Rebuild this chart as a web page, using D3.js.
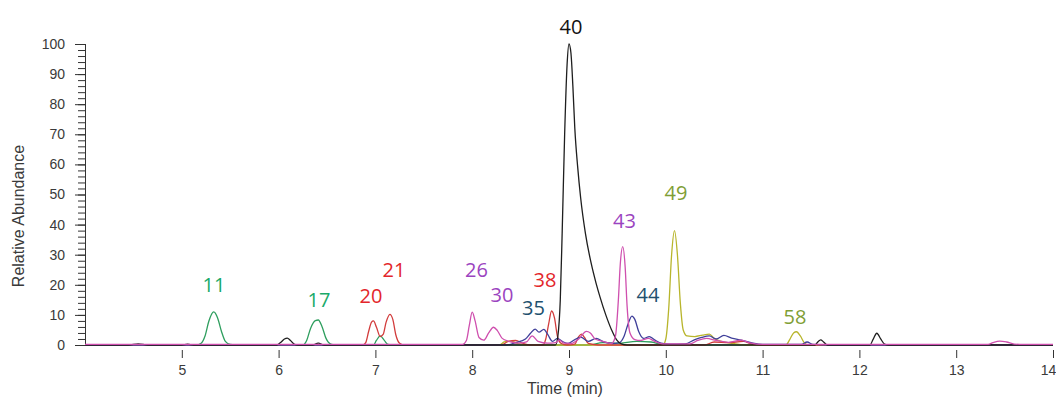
<!DOCTYPE html>
<html>
<head>
<meta charset="utf-8">
<script src="https://cdn.jsdelivr.net/npm/d3@7"></script>
<style>
  html, body { margin: 0; padding: 0; background: #fff; }
  svg { display: block; }
</style>
</head>
<body>
<svg id="chart" width="1056" height="398"></svg>
<script>
// ---------------- data (time in min, relative abundance %) ----------------
const xTicks = [5, 6, 7, 8, 9, 10, 11, 12, 13, 14];
const yTicks = [0, 10, 20, 30, 40, 50, 60, 70, 80, 90, 100];

const greenTrace = [
  [4.0,0],[5.15,0],[5.2,0.6],[5.24,3],[5.28,8],[5.33,11],[5.37,9],[5.41,4.5],[5.45,1.2],[5.5,0.2],[5.6,0],
  [6.25,0],[6.29,1.5],[6.33,5.5],[6.38,8.1],[6.41,8.3],[6.45,6],[6.49,2.2],[6.54,0.3],[6.6,0],
  [6.98,0],[7.01,1.5],[7.05,3],[7.09,1.6],[7.13,0.2],[7.2,0],
  [9.2,0],[9.35,0.8],[9.5,0.6],[9.7,1.2],[9.85,1],[9.95,0.2],[10.1,0],[14.0,0]
];
const yellowTrace = [
  [4.0,0],[8.28,0],[8.33,1],[8.4,1.3],[8.48,0.4],[8.55,0],
  [9.97,0],[10.0,2],[10.03,12],[10.06,30],[10.09,38],[10.12,30],[10.15,14],[10.18,5],[10.22,3],
  [10.3,2.8],[10.38,3.3],[10.45,3.6],[10.5,2.2],[10.6,1],[10.72,0.4],[10.85,0],
  [11.24,0],[11.28,1.8],[11.32,4],[11.35,4.4],[11.39,3],[11.43,0.8],[11.48,0],[14.0,0]
];
const redTrace = [
  [4.0,0],[6.87,0],[6.9,0.8],[6.93,4.5],[6.96,7.6],[6.98,8],[7.01,6],[7.05,2.8],[7.08,3.5],
  [7.11,7.5],[7.15,10.2],[7.18,8.5],[7.21,3.5],[7.25,0.6],[7.3,0],
  [8.3,0],[8.36,1],[8.45,1.5],[8.52,0.6],[8.6,0],
  [8.73,0],[8.76,2],[8.79,7],[8.82,11.3],[8.85,9],[8.88,3],[8.92,0.5],[8.98,0],
  [9.06,0.3],[9.1,2.8],[9.13,3.6],[9.16,2.5],[9.2,0.5],[9.3,0],
  [10.4,0],[10.5,1],[10.65,0.8],[10.8,1.2],[10.9,0.2],[11.0,0],[14.0,0]
];
const navyTrace = [
  [4.0,0],[8.35,0],[8.45,0.8],[8.55,2],[8.6,3.8],[8.65,5.3],[8.69,4.3],[8.74,5.2],[8.78,3.5],
  [8.83,1.2],[8.88,2.2],[8.93,1.2],[8.99,0.5],[9.06,1.8],[9.12,2.6],[9.2,1.2],[9.28,2.2],
  [9.36,1],[9.45,0.5],[9.52,0.8],[9.57,3],[9.61,7],[9.65,9.6],[9.68,8.5],[9.72,4.5],
  [9.77,2.2],[9.83,2.8],[9.88,1.8],[9.95,0.6],[10.05,0.3],[10.2,0.4],[10.3,1.8],[10.37,2.5],
  [10.45,3],[10.52,2],[10.6,3.2],[10.68,2.3],[10.78,1.6],[10.9,0.6],[11.0,0.2],
  [11.4,0.2],[11.46,1],[11.52,0.2],[11.7,0],[14.0,0]
];
const blackTrace = [
  [4.0,0],[4.45,0],[4.55,0.4],[4.65,0],[5.0,0],[5.06,0.3],[5.12,0],
  [5.98,0],[6.02,0.8],[6.06,2],[6.09,2.3],[6.12,1.6],[6.16,0.3],[6.2,0],
  [6.35,0],[6.41,0.6],[6.47,0],
  [8.86,0],[8.885,3],[8.91,15],[8.93,38],[8.955,70],[8.98,93],[9.0,100],[9.02,97],
  [9.04,86],[9.06,72],[9.09,59],[9.12,49],[9.17,37],[9.23,27],[9.28,20.5],[9.32,16],
  [9.38,10],[9.44,5],[9.49,1.8],[9.54,0.4],[9.6,0],
  [11.54,0],[11.57,1],[11.6,1.7],[11.63,1],[11.67,0],
  [12.11,0],[12.14,1.8],[12.18,3.9],[12.22,2],[12.26,0.3],[12.3,0],[14.0,0]
];
const magentaTrace = [
  [4.0,0.2],[7.9,0.2],[7.94,1.5],[7.97,6.5],[8.0,10.9],[8.03,8],[8.07,2.5],[8.12,1.6],
  [8.17,4],[8.22,5.9],[8.26,4.8],[8.31,2.2],[8.38,1.2],[8.48,0.6],[8.56,1],[8.62,3],
  [8.68,1.2],[8.78,0.6],[8.86,0.8],[8.9,1.6],[8.95,0.6],[9.02,0.5],[9.1,2],[9.18,4.5],
  [9.22,4],[9.27,2],[9.35,1.2],[9.44,0.5],[9.48,3],[9.51,15],[9.53,27],[9.555,32.7],
  [9.58,26],[9.6,13],[9.63,4],[9.68,1.8],[9.74,1.5],[9.82,2.2],[9.88,1.3],[9.97,0.4],
  [10.25,0.4],[10.33,1.5],[10.42,2.2],[10.52,1.5],[10.65,0.9],[10.78,1.6],[10.88,0.6],
  [11.0,0.2],[13.33,0.2],[13.38,0.8],[13.45,1.3],[13.52,1],[13.6,0.3],[13.7,0.2],[14.0,0.2]
];

const seriesNames  = ["green", "yellow", "red", "navy", "black", "magenta"];
const seriesData   = [greenTrace, yellowTrace, redTrace, navyTrace, blackTrace, magentaTrace];
const seriesColors = ["#2e9e5e", "#b8b52c", "#d23c3c", "#3f3f9a", "#1e1e1e", "#cf4fae"];

// peak labels: text, retention time, abundance where the label baseline sits, colour
const labelTexts  = ["11", "17", "20", "21", "26", "30", "35", "38", "40", "43", "44", "49", "58"];
const labelTimes  = [5.333, 6.417, 6.955, 7.192, 8.044, 8.308, 8.633, 8.752, 9.021, 9.573, 9.816, 10.105, 11.335];
const labelLevels = [17.6, 12.6, 14.0, 22.6, 22.6, 14.3, 10.0, 19.3, 103.3, 38.9, 14.3, 48.2, 7.0];
const labelColors = ["#1aaa6a", "#1aaa6a", "#e3262b", "#e3262b", "#9b44c0", "#9b44c0", "#22506e",
                     "#e3262b", "#111111", "#9b44c0", "#22506e", "#7f9e35", "#7f9e35"];

// ---------------- drawing ----------------
const svg = d3.select("#chart");
const x = d3.scaleLinear().domain([4, 14]).range([85, 1053]);
const y = d3.scaleLinear().domain([0, 100]).range([345, 44]);

const axisColor = "#333";
const tickFont = "Liberation Sans, Arial, sans-serif";

// y axis: major ticks every 10, minor every 2
const yMinor = d3.range(0, 101, 2);
const yAxisG = svg.append("g").attr("transform", "translate(85,0)");
yAxisG.call(d3.axisLeft(y).tickValues(yMinor).tickSize(7).tickFormat(""));
yAxisG.selectAll("path.domain").remove();
yAxisG.selectAll("line").attr("stroke", axisColor);
const yMajorG = svg.append("g").attr("transform", "translate(85,0)");
yMajorG.call(d3.axisLeft(y).tickValues(yTicks).tickSize(10).tickPadding(10).tickFormat(d3.format("d")));
yMajorG.select("path.domain").attr("stroke", axisColor).attr("d", `M0.5,${y(100)}V${y(0)}`);
yMajorG.selectAll("line").attr("stroke", axisColor);
yMajorG.selectAll("text").attr("fill", "#3a3a3a").style("font-family", tickFont).style("font-size", "14px");

// x axis: ticks detached below baseline
const xAxisG = svg.append("g").attr("transform", "translate(0,350)");
xAxisG.call(d3.axisBottom(x).tickValues(xTicks).tickSize(8).tickPadding(7).tickFormat(d3.format("d")));
xAxisG.select("path.domain").remove();
xAxisG.selectAll("line").attr("stroke", axisColor);
xAxisG.selectAll("text").attr("fill", "#3a3a3a").style("font-family", tickFont).style("font-size", "14px");
// keep the last tick label ("14") inside the picture
xAxisG.selectAll(".tick").filter(d => d === 14).select("text").attr("text-anchor", "end").attr("dx", "0.2em");

// axis titles
svg.append("text")
  .attr("x", 565).attr("y", 394)
  .attr("text-anchor", "middle")
  .attr("fill", "#3a3a3a")
  .style("font-family", tickFont).style("font-size", "16px")
  .text("Time (min)");
svg.append("text")
  .attr("transform", "translate(24,216) rotate(-90)")
  .attr("text-anchor", "middle")
  .attr("fill", "#3a3a3a")
  .style("font-family", tickFont).style("font-size", "16px")
  .text("Relative Abundance");

// traces
const line = d3.line()
  .x(d => x(d[0]))
  .y(d => y(d[1]))
  .curve(d3.curveMonotoneX);

svg.append("g").selectAll("path")
  .data(seriesData)
  .join("path")
  .attr("class", (d, i) => "trace " + seriesNames[i])
  .attr("d", line)
  .attr("fill", "none")
  .attr("stroke", (d, i) => seriesColors[i])
  .attr("stroke-width", 1.3)
  .attr("stroke-linejoin", "round");

// peak labels
svg.append("g").selectAll("text")
  .data(labelTexts)
  .join("text")
  .attr("x", (d, i) => x(labelTimes[i]))
  .attr("y", (d, i) => y(labelLevels[i]))
  .attr("text-anchor", "middle")
  .attr("fill", (d, i) => labelColors[i])
  .style("font-family", "Open Sans, Lato, sans-serif")
  .style("font-size", "20px")
  .text(d => d);
</script>
</body>
</html>
